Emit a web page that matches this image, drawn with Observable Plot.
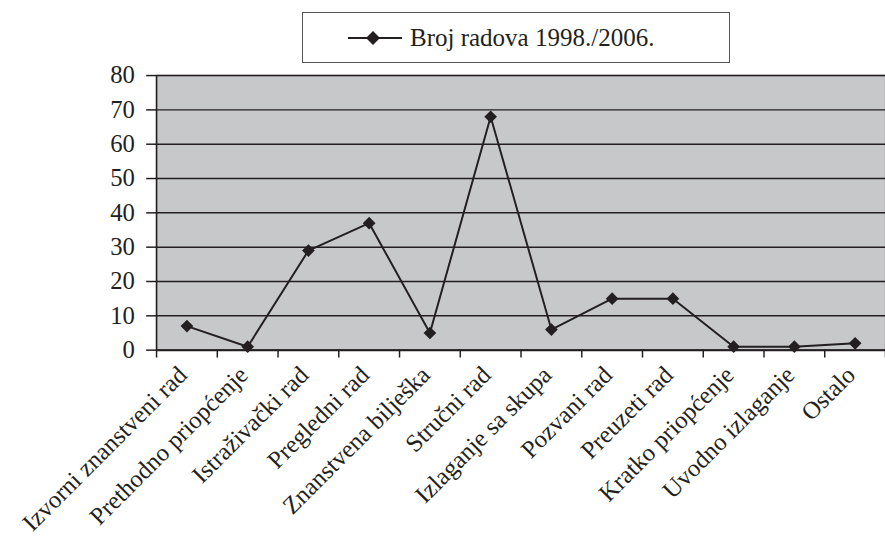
<!DOCTYPE html>
<html>
<head>
<meta charset="utf-8">
<script src="https://cdn.jsdelivr.net/npm/d3@7"></script>
<script src="https://cdn.jsdelivr.net/npm/@observablehq/plot@0.6"></script>
<style>
  body { margin: 0; background: #fff; }
  #wrap { position: relative; width: 885px; height: 542px; overflow: hidden; font-family: "Liberation Serif", serif; color: #231f20; }
  #chart { position: absolute; left: 0; top: 0; }
  #legend { position: absolute; left: 302px; top: 12px; width: 428px; height: 51px; box-sizing: border-box;
            border: 1.5px solid #555; background: #fff; display: flex; align-items: center; }
  #legend svg { margin-left: 43px; }
  #legend span { margin-left: 8px; font-size: 25px; line-height: 1; white-space: nowrap; }
</style>
</head>
<body>
<div id="wrap">
  <div id="chart"></div>
  <div id="legend"></div>
</div>
<script>
const categories = [
  "Izvorni znanstveni rad", "Prethodno priopćenje", "Istraživački rad", "Pregledni rad",
  "Znanstvena bilješka", "Stručni rad", "Izlaganje sa skupa", "Pozvani rad",
  "Preuzeti rad", "Kratko priopćenje", "Uvodno izlaganje", "Ostalo"
];
const values = [7, 1, 29, 37, 5, 68, 6, 15, 15, 1, 1, 2];
const yTicks = [0, 10, 20, 30, 40, 50, 60, 70, 80];
const seriesName = "Broj radova 1998./2006.";

const ink = "#231f20";
const serif = "Liberation Serif";
const data = categories.map((c, i) => ({c, i, v: values[i]}));
const xPos = d => d.i + 0.5;

const chart = Plot.plot({
  width: 896,
  height: 542,
  marginLeft: 158,
  marginRight: 0,
  marginTop: 76,
  marginBottom: 188,
  x: {domain: [0, categories.length], axis: null},
  y: {domain: [0, 80], axis: null},
  style: {fontFamily: serif, fontSize: "25px", color: ink, background: "transparent", overflow: "visible"},
  marks: [
    Plot.frame({fill: "#c7c8ca", stroke: "#9a9a9a", strokeWidth: 1.5}),
    Plot.gridY(yTicks, {stroke: ink, strokeOpacity: 1, strokeWidth: 1.5}),
    Plot.axisY(yTicks, {label: null, tickSize: 10, tickPadding: 12, fontSize: 25, fontFamily: serif,
                        fontVariant: "normal", stroke: ink, fill: ink, strokeWidth: 1.5}),
    Plot.axisX(d3.range(categories.length + 1), {label: null, tickSize: 8, tickFormat: () => "", stroke: ink, strokeWidth: 1.5}),
    Plot.ruleX([0], {stroke: ink, strokeWidth: 1.5}),
    Plot.ruleY([0], {stroke: ink, strokeWidth: 2}),
    Plot.line(data, {x: xPos, y: "v", stroke: ink, strokeWidth: 2}),
    Plot.dot(data, {x: xPos, y: "v", symbol: "diamond2", r: 5.8, fill: ink, stroke: "none"}),
    Plot.text(data, {x: xPos, y: () => 0, text: "c", rotate: -45, textAnchor: "end",
                     dx: -4, dy: 21, fontSize: 25, fontFamily: serif, fill: ink})
  ]
});
document.getElementById("chart").appendChild(chart);

const legend = document.getElementById("legend");
legend.innerHTML = `<svg width="56" height="16" viewBox="0 0 56 16">
  <line x1="2" y1="8" x2="56" y2="8" stroke="${ink}" stroke-width="2"/>
  <path d="M27,1 L34,8 L27,15 L20,8 Z" fill="${ink}"/>
</svg><span></span>`;
legend.querySelector("span").textContent = seriesName;
</script>
</body>
</html>
